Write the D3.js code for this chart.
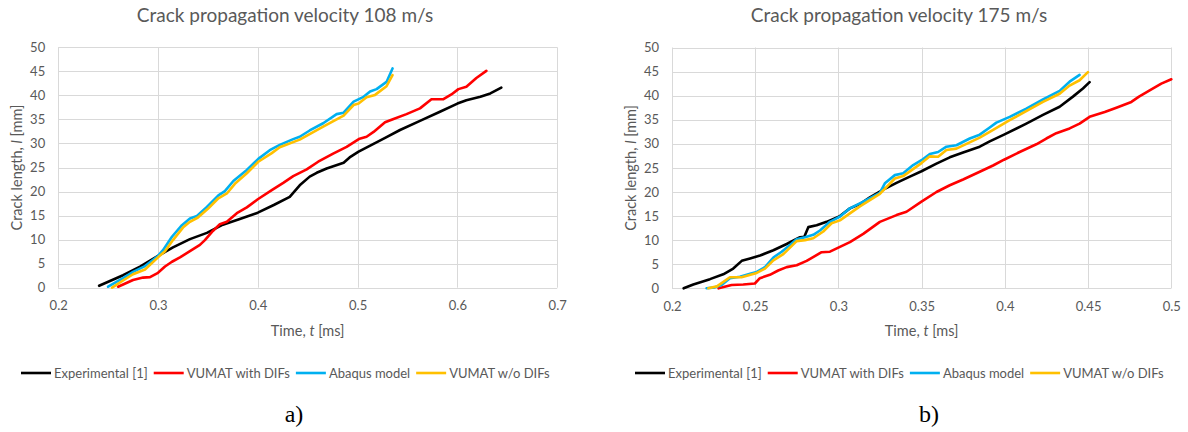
<!DOCTYPE html>
<html>
<head>
<meta charset="utf-8">
<script src="https://cdn.jsdelivr.net/npm/d3@7"></script>
<style>
  html, body { margin: 0; padding: 0; background: #ffffff; }
  svg { display: block; }
  text { font-family: Lato, "Open Sans", sans-serif; fill: #595959; }
</style>
</head>
<body>
<svg id="chart" width="1188" height="432"></svg>
<script>
// ---------- DATA ----------
const seriesNames = ["Experimental [1]", "VUMAT with DIFs", "Abaqus model", "VUMAT w/o DIFs"];
const seriesColors = ["#000000", "#ff0000", "#00b0f0", "#ffc000"];

const titleA = "Crack propagation velocity 108 m/s";
const titleB = "Crack propagation velocity 175 m/s";
const xTicksA = [0.2, 0.3, 0.4, 0.5, 0.6, 0.7];
const xTicksB = [0.2, 0.25, 0.3, 0.35, 0.4, 0.45, 0.5];
const yTicks = [0, 5, 10, 15, 20, 25, 30, 35, 40, 45, 50];

// Chart a) : [time ms, crack length mm]
const expA = [[0.241,0.4],[0.253,1.5],[0.265,2.6],[0.282,4.4],[0.300,6.6],[0.315,8.4],[0.332,10.1],[0.349,11.4],[0.365,13.1],[0.382,14.3],[0.400,15.6],[0.416,17.2],[0.432,18.9],[0.442,21.3],[0.452,23.1],[0.459,23.9],[0.469,24.8],[0.486,26.0],[0.492,27.1],[0.501,28.3],[0.516,29.9],[0.529,31.3],[0.5425,32.8],[0.5625,34.7],[0.5825,36.6],[0.600,38.3],[0.609,39.0],[0.623,39.7],[0.633,40.4],[0.644,41.6]];
const redA = [[0.260,0.2],[0.275,1.6],[0.285,2.1],[0.292,2.2],[0.300,3.1],[0.307,4.4],[0.314,5.4],[0.322,6.3],[0.332,7.6],[0.342,8.9],[0.347,9.9],[0.355,11.8],[0.362,13.2],[0.369,13.7],[0.379,15.5],[0.389,16.7],[0.400,18.4],[0.414,20.3],[0.4255,21.8],[0.4355,23.2],[0.449,24.6],[0.4605,26.2],[0.4755,27.9],[0.489,29.3],[0.502,31.0],[0.509,31.4],[0.516,32.4],[0.5275,34.4],[0.536,35.1],[0.549,36.1],[0.5625,37.3],[0.574,39.2],[0.586,39.2],[0.594,40.2],[0.601,41.3],[0.609,41.8],[0.619,43.6],[0.629,45.1]];
const blueA = [[0.250,0.2],[0.265,2.0],[0.275,3.3],[0.287,4.5],[0.300,6.6],[0.305,7.8],[0.314,10.6],[0.324,13.0],[0.332,14.4],[0.339,14.9],[0.349,16.8],[0.3605,19.2],[0.367,20.1],[0.3755,22.2],[0.389,24.5],[0.4005,26.8],[0.412,28.6],[0.422,29.7],[0.4355,30.9],[0.442,31.4],[0.452,32.7],[0.4655,34.2],[0.479,36.1],[0.486,36.4],[0.496,38.7],[0.506,39.7],[0.5125,40.8],[0.519,41.3],[0.529,42.8],[0.535,45.6]];
const yellowA = [[0.254,0.0],[0.265,1.5],[0.275,2.8],[0.287,3.8],[0.300,6.3],[0.307,7.6],[0.315,9.9],[0.325,12.5],[0.332,13.7],[0.340,14.6],[0.350,16.4],[0.3605,18.6],[0.369,19.6],[0.377,21.6],[0.389,23.8],[0.4005,26.2],[0.414,28.0],[0.422,29.2],[0.442,30.8],[0.4655,33.5],[0.486,35.8],[0.496,38.0],[0.501,38.3],[0.509,39.6],[0.5175,40.1],[0.529,41.9],[0.535,44.2]];

// Chart b)
const expB = [[0.207,0.0],[0.2128,0.8],[0.2228,1.9],[0.2308,2.9],[0.2368,4.1],[0.2419,5.7],[0.2469,6.2],[0.2529,6.8],[0.2609,7.9],[0.2689,9.2],[0.2769,10.6],[0.2795,10.7],[0.2819,12.7],[0.2869,13.1],[0.2929,13.8],[0.3005,14.9],[0.3069,16.6],[0.3129,17.5],[0.3189,18.9],[0.3269,20.5],[0.3349,21.9],[0.3429,23.2],[0.3499,24.3],[0.3589,25.9],[0.3669,27.2],[0.3749,28.2],[0.3849,29.4],[0.3909,30.5],[0.3995,31.9],[0.4129,34.2],[0.4229,36.0],[0.4329,37.7],[0.4409,39.8],[0.4469,41.5],[0.4509,42.8]];
const redB = [[0.228,0.0],[0.2358,0.7],[0.2428,0.8],[0.2498,1.0],[0.2528,2.1],[0.2588,2.8],[0.2638,3.7],[0.2689,4.4],[0.2749,4.8],[0.2809,5.7],[0.2899,7.5],[0.2949,7.6],[0.3009,8.6],[0.3069,9.6],[0.3149,11.3],[0.3249,13.8],[0.3349,15.2],[0.3409,15.9],[0.3499,18.0],[0.3589,20.0],[0.3669,21.4],[0.3749,22.6],[0.3849,24.2],[0.3929,25.5],[0.3995,26.7],[0.4089,28.3],[0.4189,29.9],[0.4249,31.1],[0.4309,32.2],[0.4389,33.2],[0.4449,34.2],[0.4509,35.6],[0.460,36.6],[0.467,37.5],[0.476,38.7],[0.4806,39.8],[0.487,41.1],[0.494,42.5],[0.500,43.4]];
const blueB = [[0.2208,0.0],[0.2258,0.2],[0.2298,0.7],[0.2348,2.1],[0.2408,2.4],[0.2469,3.0],[0.2509,3.4],[0.2559,4.4],[0.2609,6.4],[0.2659,7.6],[0.2709,9.0],[0.2749,10.2],[0.2799,10.6],[0.2849,11.1],[0.2889,12.0],[0.2949,13.8],[0.3009,14.9],[0.3069,16.6],[0.3149,18.0],[0.3249,19.8],[0.3279,21.8],[0.3339,23.5],[0.3389,23.9],[0.3449,25.6],[0.3499,26.6],[0.3549,27.9],[0.3599,28.3],[0.3649,29.4],[0.3709,29.7],[0.3789,31.1],[0.3849,31.9],[0.3909,33.4],[0.3949,34.4],[0.4029,35.6],[0.4129,37.3],[0.4229,39.2],[0.4329,41.0],[0.4389,42.9],[0.4449,44.3]];
const yellowB = [[0.2218,0.0],[0.227,0.4],[0.2348,2.3],[0.2418,2.3],[0.2509,3.2],[0.2559,4.1],[0.2609,5.8],[0.2669,7.1],[0.2749,9.8],[0.2799,10.0],[0.2849,10.4],[0.2909,11.8],[0.2959,13.5],[0.3009,14.1],[0.3129,17.0],[0.3249,19.6],[0.3339,22.8],[0.3389,23.3],[0.3499,26.0],[0.3549,27.4],[0.3599,27.3],[0.3649,28.7],[0.3709,29.0],[0.3849,31.3],[0.3909,32.5],[0.4029,34.9],[0.4229,38.7],[0.4329,40.4],[0.4389,42.1],[0.4449,43.2],[0.4499,44.9]];

// ---------- DRAW ----------
const svg = d3.select("#chart");

function drawChart(cfg) {
  const g = svg.append("g");
  const x = d3.scaleLinear().domain([cfg.xTicks[0], cfg.xTicks[cfg.xTicks.length - 1]]).range([cfg.left, cfg.right]);
  const y = d3.scaleLinear().domain([0, 50]).range([cfg.bottom, cfg.top]);

  // gridlines
  g.append("g").selectAll("line").data(yTicks).join("line")
    .attr("x1", cfg.left).attr("x2", cfg.right)
    .attr("y1", d => Math.round(y(d)) + 0.5).attr("y2", d => Math.round(y(d)) + 0.5)
    .attr("stroke", "#d9d9d9").attr("stroke-width", 1);
  g.append("g").selectAll("line").data(cfg.xTicks).join("line")
    .attr("y1", cfg.top).attr("y2", cfg.bottom)
    .attr("x1", d => Math.round(x(d)) + 0.5).attr("x2", d => Math.round(x(d)) + 0.5)
    .attr("stroke", "#d9d9d9").attr("stroke-width", 1);

  // axes (labels only) via d3 axes
  const yAxis = d3.axisLeft(y).tickValues(yTicks).tickSize(0).tickPadding(13).tickFormat(d3.format("d"));
  const yg = g.append("g").attr("transform", `translate(${cfg.left},0)`).call(yAxis);
  const xAxis = d3.axisBottom(x).tickValues(cfg.xTicks).tickSize(0).tickPadding(13).tickFormat(d => String(d));
  const xg = g.append("g").attr("transform", `translate(0,${cfg.bottom})`).call(xAxis);
  [yg, xg].forEach(a => {
    a.select(".domain").remove();
    a.selectAll("text").attr("fill", "#595959").style("font-size", "13px").style("font-family", "Lato, sans-serif");
  });

  // title
  g.append("text").attr("x", cfg.titleX).attr("y", 22).attr("text-anchor", "middle")
    .style("font-size", "19px").text(cfg.title);

  // axis titles
  const xt = g.append("text").attr("x", (cfg.left + cfg.right) / 2).attr("y", 336)
    .attr("text-anchor", "middle").style("font-size", "14.5px");
  xt.append("tspan").text("Time, ");
  xt.append("tspan").style("font-style", "italic").text("t");
  xt.append("tspan").text(" [ms]");
  const yt = g.append("text").attr("transform", `translate(${cfg.left - 36},${(cfg.top + cfg.bottom) / 2}) rotate(-90)`)
    .attr("text-anchor", "middle").style("font-size", "14.5px");
  yt.append("tspan").text("Crack length, ");
  yt.append("tspan").style("font-style", "italic").text("l");
  yt.append("tspan").text(" [mm]");

  // lines
  const line = d3.line().x(d => x(d[0])).y(d => y(d[1]));
  cfg.series.forEach((s, i) => {
    g.append("path").datum(s).attr("d", line)
      .attr("fill", "none").attr("stroke", seriesColors[i])
      .attr("stroke-width", 2.6).attr("stroke-linejoin", "round").attr("stroke-linecap", "round");
  });

  // legend
  const lg = g.append("g").attr("transform", `translate(${cfg.legendX},373)`);
  let cx = 0;
  seriesNames.forEach((name, i) => {
    lg.append("line").attr("x1", cx).attr("x2", cx + 30).attr("y1", 0).attr("y2", 0)
      .attr("stroke", seriesColors[i]).attr("stroke-width", 2.6);
    const t = lg.append("text").attr("x", cx + 33).attr("y", 4.5).style("font-size", "13px").text(name);
    const w = t.node().getComputedTextLength();
    cx += 33 + w + 6;
  });

  // sub label
  svg.append("text").attr("x", cfg.labelX).attr("y", 422).attr("text-anchor", "middle")
    .style("font-family", "'Liberation Serif', 'DejaVu Serif', serif").style("font-size", "24px")
    .attr("fill", "#000").style("fill", "#000").text(cfg.label);
}

drawChart({
  title: titleA, xTicks: xTicksA, series: [expA, redA, blueA, yellowA],
  left: 58.2, right: 557.2, top: 47.3, bottom: 287.7,
  titleX: 285, legendX: 21, labelX: 294, label: "a)"
});
drawChart({
  title: titleB, xTicks: xTicksB, series: [expB, redB, blueB, yellowB],
  left: 672, right: 1171.3, top: 47.5, bottom: 288.3,
  titleX: 899, legendX: 635, labelX: 929, label: "b)"
});
</script>
</body>
</html>
